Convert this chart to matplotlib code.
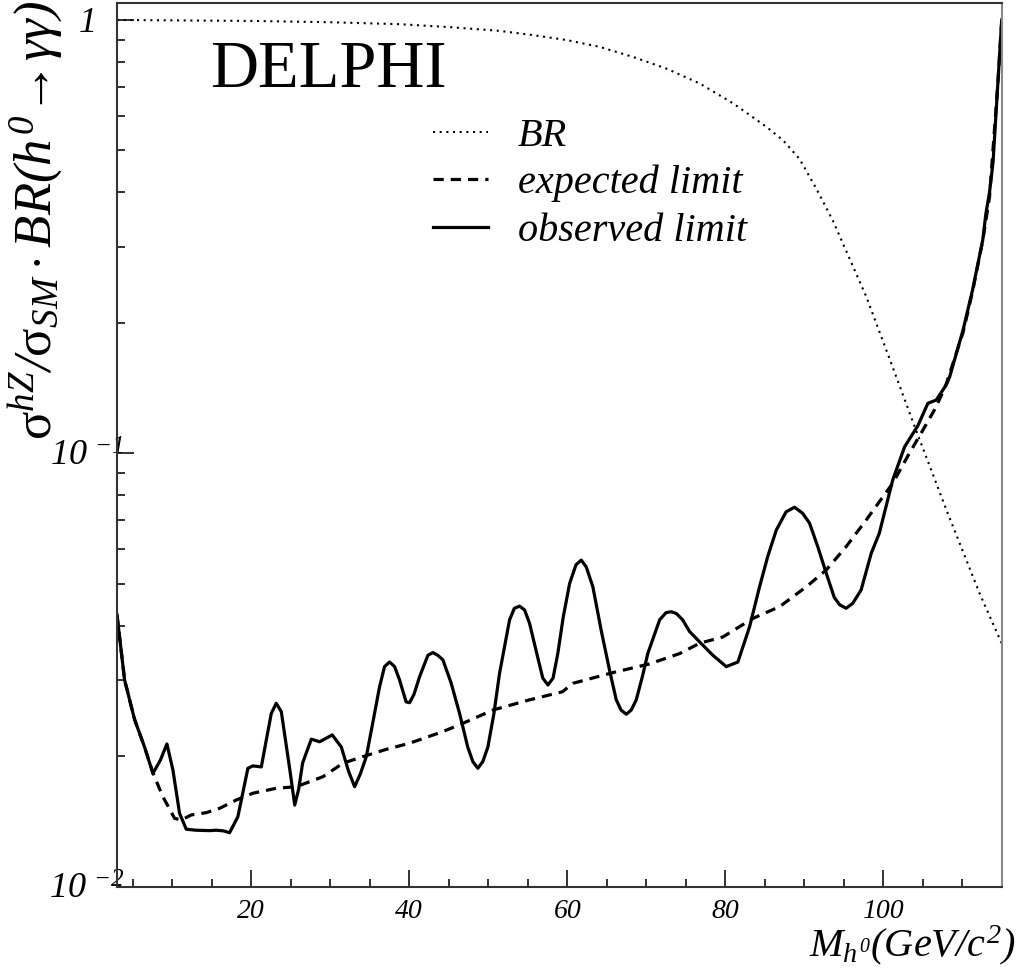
import matplotlib
matplotlib.use('Agg')
import matplotlib.pyplot as plt
from matplotlib.ticker import FixedLocator, FixedFormatter, NullFormatter

plt.rcParams['font.family'] = ['Liberation Serif', 'DejaVu Serif']
plt.rcParams['mathtext.fontset'] = 'custom'
# everything in the ROOT-style labels is italic, except sigma (upright, via \mathsf)
plt.rcParams['mathtext.rm'] = 'Liberation Serif:italic'
plt.rcParams['mathtext.it'] = 'Liberation Serif:italic'
plt.rcParams['mathtext.sf'] = 'Liberation Serif'
plt.rcParams['mathtext.bf'] = 'Liberation Serif:bold'

# observed limit (solid)
obs_mass = [3.0, 3.96, 5.23, 6.49, 7.55, 8.5, 9.32, 10.08, 10.92, 11.77, 13.0, 14.72,
            15.57, 16.5, 17.25, 18.3, 19.57, 20.2, 21.27, 21.9, 22.53, 23.16, 23.8,
            24.2, 24.9, 25.5, 26.0, 26.5, 27.6, 28.65, 30.25, 31.4, 32.3, 33.08, 33.8,
            34.56, 35.4, 36.24, 36.87, 37.5, 38.14, 38.77, 39.6, 40.04, 40.6, 41.3,
            42.36, 42.99, 43.6, 44.25, 45.3, 46.37, 47.4, 48.05, 48.68, 49.3, 49.95,
            50.7, 51.43, 52.7, 53.3, 53.96, 54.6, 55.23, 56.4, 56.9, 57.55, 58.2,
            58.8, 59.5, 60.3, 61.1, 61.77, 62.4, 63.24, 64.3, 65.35, 66.2, 66.8,
            67.47, 68.1, 68.73, 69.5, 70.2, 71.7, 72.5, 73.16, 73.8, 74.6, 75.48,
            76.96, 78.43, 80.13, 81.6, 83.08, 84.34, 85.4, 86.46, 87.7, 88.77, 89.8,
            90.67, 91.7, 92.78, 93.8, 94.5, 95.3, 96.15, 97.2, 98.48, 99.5, 101.2,
            102.7, 104.4, 105.65, 106.7, 107.97, 108.4, 110.1, 111.3, 112.6, 113.0,
            113.45, 113.9, 114.5, 115.0]
obs_limit = [0.0424, 0.030, 0.0243, 0.021, 0.01826, 0.0196, 0.02135, 0.01859, 0.01477,
             0.01357, 0.01350, 0.01347, 0.0135, 0.01345, 0.01332, 0.0145, 0.01876,
             0.0190, 0.0189, 0.0218, 0.0251, 0.0265, 0.02534, 0.0226, 0.0185, 0.01543,
             0.0168, 0.0193, 0.0219, 0.0216, 0.0224, 0.0210, 0.0185, 0.01701, 0.0182,
             0.01995, 0.0240, 0.02894, 0.0322, 0.0330, 0.0322, 0.030, 0.0267, 0.02658,
             0.0278, 0.0305, 0.0342, 0.0347, 0.0342, 0.0334, 0.0295, 0.0251, 0.0210,
             0.01943, 0.01876, 0.01943, 0.0210, 0.0250, 0.0311, 0.0413, 0.0439, 0.0444,
             0.0435, 0.0405, 0.0330, 0.0303, 0.0292, 0.0303, 0.0345, 0.0420, 0.0501,
             0.0553, 0.0567, 0.0547, 0.0492, 0.0390, 0.0316, 0.0270, 0.02557, 0.025,
             0.02557, 0.02698, 0.0305, 0.03455, 0.0413, 0.0429, 0.0431, 0.0427, 0.0413,
             0.0388, 0.0364, 0.0342, 0.0322, 0.0330, 0.0398, 0.0492, 0.0580, 0.0665,
             0.0733, 0.0751, 0.0727, 0.069, 0.0610, 0.0529, 0.0465, 0.0447, 0.0439,
             0.0451, 0.0484, 0.0588, 0.0654, 0.0868, 0.1035, 0.116, 0.1305, 0.1327,
             0.1438, 0.150, 0.1925, 0.238, 0.311, 0.358, 0.40, 0.47, 0.71, 1.0]

# expected limit (dashed)
exp_mass = [3.0, 3.96, 5.23, 6.49, 7.55, 8.81, 10.29, 11.14, 12.4, 14.3, 16.0, 18.1,
            20.2, 23.16, 25.7, 29.07, 31.6, 34.1, 37.1, 40.04, 44.25, 46.8, 50.6, 55.2,
            59.4, 60.7, 65.8, 70.4, 74.2, 76.75, 79.7, 83.5, 86.9, 90.25, 92.78, 95.3,
            97.85, 99.5, 101.2, 103.3, 105.0, 106.7, 108.0, 110.1, 111.3, 112.6,
            113.45, 114.5, 115.0]
exp_limit = [0.0424, 0.030, 0.0243, 0.021, 0.0183, 0.01613, 0.01438, 0.01425, 0.01464,
             0.01482, 0.01517, 0.01585, 0.01643, 0.01687, 0.01701, 0.01794, 0.01927,
             0.01995, 0.02075, 0.02143, 0.0228, 0.02383, 0.02557, 0.02698, 0.02818,
             0.02946, 0.0312, 0.03266, 0.0345, 0.03645, 0.0377, 0.0416, 0.0443, 0.0492,
             0.0538, 0.0609, 0.0702, 0.0773, 0.0853, 0.100, 0.113, 0.128, 0.145, 0.19,
             0.236, 0.31, 0.39, 0.71, 1.0]

# branching ratio (dotted)
br_mass = [3.0, 10.0, 20.0, 30.0, 38.8, 45.0, 51.4, 55.6, 59.9, 64.1, 68.3, 72.5,
           76.75, 81.0, 85.2, 87.3, 89.4, 91.5, 93.6, 97.85, 101.2, 104.0, 108.0,
           112.2, 115.0]
br_value = [1.0, 0.998, 0.995, 0.988, 0.978, 0.963, 0.944, 0.923, 0.899, 0.867, 0.822,
            0.773, 0.714, 0.642, 0.567, 0.528, 0.478, 0.409, 0.345, 0.23, 0.158, 0.115,
            0.074, 0.0475, 0.0364]

fig = plt.figure(figsize=(10.2, 9.76), dpi=100)
ax = fig.add_axes([0.1147, 0.0915, 0.8674, 0.9057])

ax.plot(br_mass, br_value, color='black', lw=1.5, linestyle=(0, (1, 2.2)), label='BR')
ax.plot(exp_mass, exp_limit, color='black', lw=2.3, linestyle=(0, (3.2, 2.2)),
        label='expected limit')
ax.plot(obs_mass, obs_limit, color='black', lw=2.3, label='observed limit')

ax.set_yscale('log')
ax.set_xlim(3, 115)
ax.set_ylim(0.01, 1.096)

ax.xaxis.set_major_locator(FixedLocator([20, 40, 60, 80, 100]))
ax.xaxis.set_minor_locator(FixedLocator([5, 10, 15, 25, 30, 35, 45, 50, 55, 65, 70, 75,
                                         85, 90, 95, 105, 110]))
ax.xaxis.set_major_formatter(FixedFormatter(['20', '40', '60', '80', '100']))
ax.yaxis.set_major_locator(FixedLocator([0.01, 0.1, 1.0]))
ax.yaxis.set_major_formatter(FixedFormatter([r'$10\hspace{0.3}{}^{-2}$',
                                             r'$10\hspace{0.3}{}^{-1}$', r'$1$']))
ax.yaxis.set_minor_locator(FixedLocator([k * 10.0 ** e for e in (-2, -1) for k in range(2, 10)]))
ax.yaxis.set_minor_formatter(NullFormatter())

ax.tick_params(which='both', direction='in', top=False, right=False, width=1.3,
               color='#222222')
ax.tick_params(which='major', length=12)
ax.tick_params(which='minor', length=6)
ax.tick_params(axis='x', which='major', labelsize=20, pad=9)
ax.tick_params(axis='y', which='major', labelsize=26, pad=22)
for lab in ax.get_xticklabels():
    lab.set_fontstyle('italic')
for lab in ax.get_yticklabels():
    lab.set_horizontalalignment('center')

for side in ['left', 'bottom', 'top']:
    ax.spines[side].set_color('#333333')
    ax.spines[side].set_linewidth(1.5)
ax.spines['right'].set_color('#888888')
ax.spines['right'].set_linewidth(1.5)

ax.text(0.105, 0.905, 'DELPHI', transform=ax.transAxes, fontsize=48,
        va='baseline', ha='left')

ax.legend(loc='upper left', bbox_to_anchor=(0.357, 0.870), frameon=False,
          prop={'style': 'italic', 'size': 29}, handlelength=1.36, handletextpad=0.75,
          labelspacing=0.25, borderpad=0, borderaxespad=0)

fig.text(0.035, 0.999,
         r'$\mathsf{\sigma}^{hZ}/\mathsf{\sigma}_{SM}\cdot BR(h^{0}\!\rightarrow\!\gamma\gamma)$',
         rotation=90, ha='center', va='top', fontsize=38)
fig.text(0.995, 0.020, r'$M_{h^{0}}(GeV/c^{2})$', ha='right',
         va='baseline', fontsize=29)

fig.savefig('out.png', dpi=100)
